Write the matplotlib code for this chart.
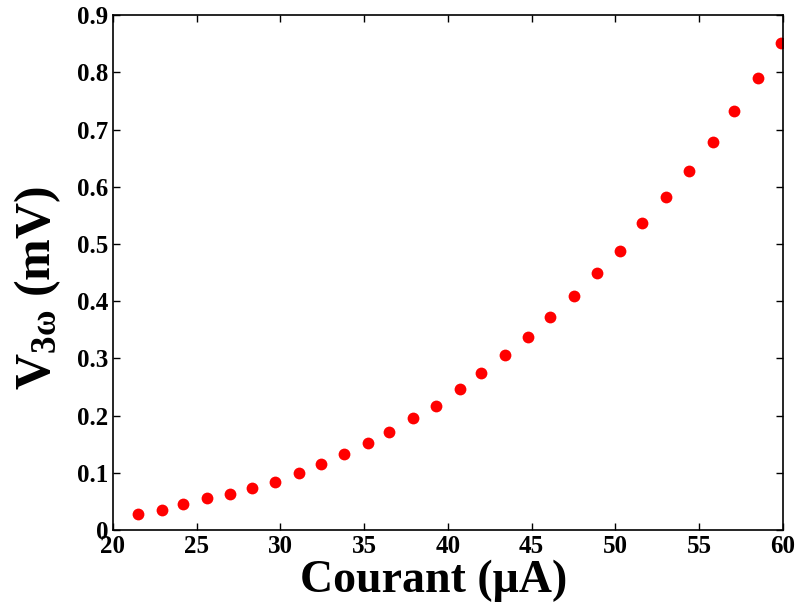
import matplotlib
matplotlib.use("Agg")
import matplotlib.pyplot as plt

# courant (uA) and third-harmonic voltage (mV)
courant = [21.5, 22.9, 24.2, 25.6, 27.0, 28.3, 29.7, 31.1, 32.4, 33.8,
           35.2, 36.5, 37.9, 39.3, 40.7, 42.0, 43.4, 44.8, 46.1, 47.5,
           48.9, 50.3, 51.6, 53.0, 54.4, 55.8, 57.1, 58.5, 59.9]
v3w = [0.028, 0.035, 0.045, 0.056, 0.063, 0.073, 0.084, 0.100, 0.115, 0.133,
       0.152, 0.171, 0.196, 0.217, 0.247, 0.275, 0.306, 0.337, 0.372, 0.409,
       0.449, 0.488, 0.537, 0.582, 0.628, 0.678, 0.733, 0.790, 0.851]

xticks = [20, 25, 30, 35, 40, 45, 50, 55, 60]
yticks = [0, 0.1, 0.2, 0.3, 0.4, 0.5, 0.6, 0.7, 0.8, 0.9]

plt.rcParams['font.family'] = 'Liberation Serif'
plt.rcParams['font.weight'] = 'bold'
plt.rcParams['mathtext.fontset'] = 'custom'
plt.rcParams['mathtext.rm'] = 'Liberation Serif:bold'
plt.rcParams['mathtext.it'] = 'Liberation Serif:bold'
plt.rcParams['mathtext.bf'] = 'Liberation Serif:bold'

fig = plt.figure(figsize=(7.98, 6.10), dpi=100)
ax = fig.add_axes([0.1416, 0.131, 0.8394, 0.844])

ax.plot(courant, v3w, 'o', color='red', markersize=8.5, markeredgewidth=0)

ax.set_xlim(20, 60)
ax.set_ylim(0, 0.9)
ax.set_xticks(xticks)
ax.set_yticks(yticks)
ax.set_xticklabels([str(t) for t in xticks])
ax.set_yticklabels(['0'] + ['%.1f' % t for t in yticks[1:]])
ax.tick_params(direction='in', top=True, right=True, labelsize=18, length=5, width=1)
for s in ax.spines.values():
    s.set_linewidth(1.2)

ax.set_xlabel('Courant (\u03bcA)', fontsize=33, fontweight='bold')
ax.xaxis.set_label_coords(0.479, -0.058)
ax.set_ylabel(r'V$_{3\omega}$ (mV)', fontsize=36, fontweight='bold')
ax.yaxis.set_label_coords(-0.075, 0.47)

fig.savefig('out.png', dpi=100)
